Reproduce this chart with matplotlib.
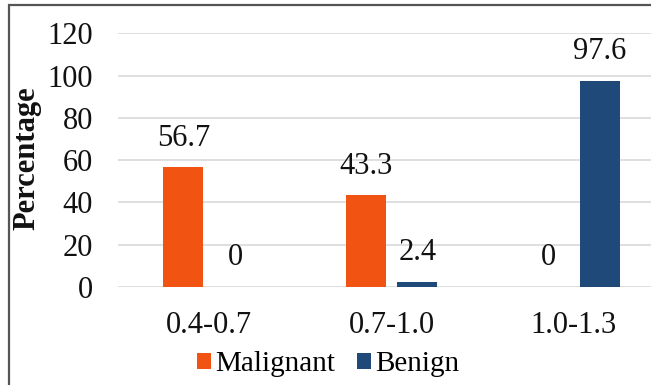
import numpy as np
import matplotlib
matplotlib.use("Agg")
import matplotlib.pyplot as plt
from matplotlib.patches import Rectangle

categories = ["0.4-0.7", "0.7-1.0", "1.0-1.3"]
malignant = [56.7, 43.3, 0]
benign = [0, 2.4, 97.6]
y_ticks = [0, 20, 40, 60, 80, 100, 120]

ORANGE = "#F05312"
BLUE = "#1F4978"
FS = 22

plt.rcParams["font.family"] = ["Liberation Serif", "DejaVu Serif"]

fig = plt.figure(figsize=(6.51, 3.85), dpi=100)
# plot area runs slightly past the right edge of the canvas
ax = fig.add_axes([118 / 651, 98 / 385, 547 / 651, 253.6 / 385])

x = np.arange(len(categories))
width = 0.22
offset = 0.142
bars_m = ax.bar(x - offset, malignant, width, color=ORANGE, label="Malignant", zorder=3)
bars_b = ax.bar(x + offset, benign, width, color=BLUE, label="Benign", zorder=3)

for bars, vals in ((bars_m, malignant), (bars_b, benign)):
    for b, v in zip(bars, vals):
        ax.annotate(f"{v:g}", (b.get_x() + b.get_width() / 2, v),
                    xytext=(0, 21), textcoords="offset points",
                    ha="center", va="center", fontsize=FS, color="#111111")

ax.set_xlim(-0.5, 2.5)
ax.set_ylim(0, 120)
ax.set_yticks(y_ticks)
ax.set_xticks(x)
ax.set_xticklabels(categories)
ax.tick_params(axis="both", length=0, labelsize=FS, colors="#111111")
ax.tick_params(axis="y", pad=18)
ax.tick_params(axis="x", pad=17)
ax.yaxis.grid(True, color="#D9D9D9", linewidth=1.2, zorder=0)
ax.set_axisbelow(True)
for s in ax.spines.values():
    s.set_visible(False)

fig.text(27 / 651, 1 - 158 / 385, "Percentage", rotation=90, fontsize=FS,
         fontweight="bold", ha="center", va="center", color="#111111")

fig.legend(handles=[bars_m, bars_b], labels=["Malignant", "Benign"],
           loc="center", bbox_to_anchor=(328 / 651, 1 - 364 / 385), ncol=2,
           frameon=False, fontsize=21, handlelength=0.48, handleheight=0.48,
           handletextpad=0.15, columnspacing=0.75, borderpad=0)

# outer frame: left and top edges
fig.add_artist(Rectangle((8.5 / 651, -0.1), 1.2, 1.1 - 4.5 / 385,
                         transform=fig.transFigure, fill=False,
                         edgecolor="#555555", linewidth=1.6, zorder=10))

fig.savefig("out.png", dpi=100)
